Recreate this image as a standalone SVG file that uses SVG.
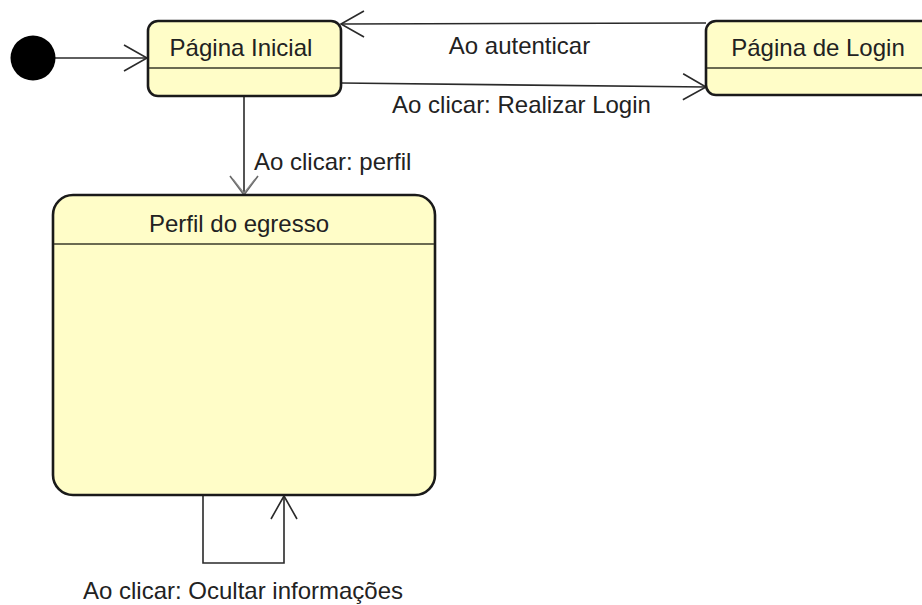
<svg xmlns="http://www.w3.org/2000/svg" width="922" height="605" viewBox="0 0 922 605">
  <style>
    .state { fill: #fffdc8; stroke: #1a1a1a; stroke-width: 2.6; }
    .divider { stroke: #3a3a2a; stroke-width: 1.6; }
    .name { font-family: "Liberation Sans", Arial, sans-serif; font-size: 24px; fill: #222; text-anchor: middle; }
    .label { font-family: "Liberation Sans", Arial, sans-serif; font-size: 24px; fill: #222; }
    .edge { fill: none; stroke: #2a2a2a; stroke-width: 1.6; }
  </style>
  <defs>
    <marker id="open" markerUnits="userSpaceOnUse" viewBox="-26 -15 28 30" markerWidth="28" markerHeight="30" refX="0" refY="0" orient="auto" overflow="visible">
      <path d="M-23,-13 L0,0 L-23,13" fill="none" stroke="#2a2a2a" stroke-width="1.6"/>
    </marker>
    <marker id="openGray" markerUnits="userSpaceOnUse" viewBox="-26 -15 28 30" markerWidth="28" markerHeight="30" refX="0" refY="0" orient="auto" overflow="visible">
      <path d="M-19,-14 L0,0 L-19,14" fill="none" stroke="#666" stroke-width="1.6"/>
      <path d="M-16,-11 L-2,0 L-16,11" fill="none" stroke="#888" stroke-width="1.2"/>
    </marker>
  </defs>

  <!-- transitions -->
  <g id="connectors">
    <path class="edge" d="M55,58 H147" marker-end="url(#open)"/>
    <path class="edge" d="M706,23 L341,24" marker-end="url(#open)"/>
    <path class="edge" d="M341,83 L706,87" marker-end="url(#open)"/>
    <path class="edge" d="M244,96 V195" marker-end="url(#openGray)"/>
    <path class="edge" d="M203,495 V563 H284 V496" marker-end="url(#open)"/>
    <text class="label" x="519.5" y="54" text-anchor="middle">Ao autenticar</text>
    <text class="label" x="521.5" y="113" text-anchor="middle">Ao clicar: Realizar Login</text>
    <text class="label" x="254" y="170">Ao clicar: perfil</text>
    <text class="label" x="243" y="599" text-anchor="middle">Ao clicar: Ocultar informações</text>
  </g>

  <!-- initial pseudo-state -->
  <g id="initial">
    <circle cx="33" cy="58" r="22.5" fill="#000"/>
  </g>

  <g id="pagina-inicial">
    <rect class="state" x="148" y="21" width="193" height="75" rx="10" ry="10"/>
    <line class="divider" x1="149" y1="68" x2="340" y2="68"/>
    <text class="name" x="241" y="56">Página Inicial</text>
  </g>

  <g id="pagina-login">
    <rect class="state" x="706" y="21" width="240" height="74" rx="10" ry="10"/>
    <line class="divider" x1="707" y1="68" x2="922" y2="68"/>
    <text class="name" x="818" y="56">Página de Login</text>
  </g>

  <g id="perfil-egresso">
    <rect class="state" x="53" y="195" width="382" height="300" rx="20" ry="20"/>
    <line class="divider" x1="54" y1="244" x2="434" y2="244"/>
    <text class="name" x="239" y="232">Perfil do egresso</text>
  </g>
</svg>
